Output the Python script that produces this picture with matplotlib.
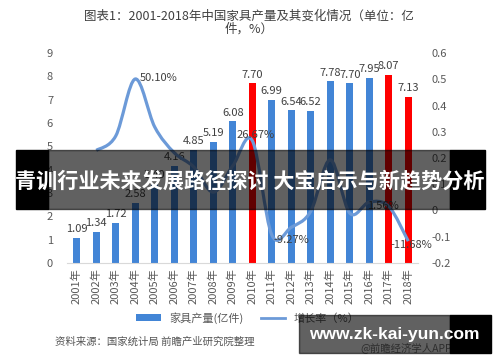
import matplotlib
matplotlib.use("Agg")
import matplotlib.pyplot as plt
import numpy as np
from matplotlib.path import Path
from matplotlib.patches import PathPatch, Rectangle
from matplotlib.ticker import FuncFormatter

plt.rcParams['font.family'] = ['Noto Sans CJK SC', 'DejaVu Sans']

years = ['2001年', '2002年', '2003年', '2004年', '2005年', '2006年', '2007年', '2008年', '2009年',
         '2010年', '2011年', '2012年', '2013年', '2014年', '2015年', '2016年', '2017年', '2018年']
output = [1.09, 1.34, 1.72, 2.58, 3.40, 4.16, 4.85, 5.19, 6.08,
          7.70, 6.99, 6.54, 6.52, 7.78, 7.70, 7.95, 8.07, 7.13]
# growth rate, first year has no value
growth = [None, 0.229, 0.284, 0.501, 0.318, 0.22, 0.166, 0.07, 0.17,
          0.2667, -0.0927, -0.064, -0.003, 0.193, -0.01, 0.032, 0.0156, -0.1168]
red_years = ['2010年', '2017年', '2018年']
growth_labels = {'2004年': '50.10%', '2010年': '26.67%', '2011年': '-9.27%',
                 '2017年': '1.56%', '2018年': '-11.68%'}

W, H = 500, 362
fig = plt.figure(figsize=(W / 100, H / 100), dpi=100)
fig.patch.set_facecolor('white')


def fx(x):
    return x / W


def fy(y):
    return 1 - y / H


ax = fig.add_axes([fx(67), fy(263), fx(418) - fx(67), fy(53) - fy(263)])
ax2 = ax.twinx()

blue = '#4285D6'
red = '#FF0000'
line_c = '#6C9AD8'
txt_c = '#404040'

x = np.arange(len(years))
colors = [red if y in red_years else blue for y in years]
bars = ax.bar(x, output, width=0.36, color=colors, zorder=2)
for xi, v in zip(x, output):
    ax.text(xi, v + 0.15, f'{v:.2f}', ha='center', va='bottom', fontsize=8, color=txt_c)

ax.set_xlim(-0.5, len(years) - 0.5)
ax.set_ylim(0, 9)
ax.set_yticks(range(0, 10))
ax.set_xticks(x)
ax.set_xticklabels(years, rotation=90, fontsize=7.5, color='#595959')
ax.tick_params(axis='both', length=0, labelsize=8, colors='#595959')
ax.tick_params(axis='y', pad=10)
for s in ['top', 'right', 'left']:
    ax.spines[s].set_visible(False)
ax.spines['bottom'].set_color('#D9D9D9')

ax2.set_ylim(-0.2, 0.6)
ax2.set_yticks(np.arange(-0.2, 0.61, 0.1))
ax2.yaxis.set_major_formatter(FuncFormatter(lambda v, p: f'{round(v, 1) + 0:g}'))
ax2.tick_params(axis='y', length=0, labelsize=8, colors='#595959', pad=10)
for s in ['top', 'right', 'left', 'bottom']:
    ax2.spines[s].set_visible(False)

# smooth line through growth points (Excel style)
pts = [(xi, g) for xi, g in zip(x, growth) if g is not None]
pts = np.array(pts, dtype=float)
verts = [tuple(pts[0])]
codes = [Path.MOVETO]
n = len(pts)
for i in range(n - 1):
    p0 = pts[max(i - 1, 0)]
    p1 = pts[i]
    p2 = pts[i + 1]
    p3 = pts[min(i + 2, n - 1)]
    c1 = p1 + (p2 - p0) / 6
    c2 = p2 - (p3 - p1) / 6
    verts += [tuple(c1), tuple(c2), tuple(p2)]
    codes += [Path.CURVE4] * 3
ax2.add_patch(PathPatch(Path(verts, codes), fill=False, edgecolor=line_c, lw=2.3, zorder=3))
ax2.plot([], [], color=line_c, lw=2)

label_off = {'2004年': (0.25, 0.005, 'left'), '2010年': (0.15, 0.02, 'center'),
             '2011年': (0.1, -0.02, 'left'), '2017年': (-0.3, 0.0, 'center'),
             '2018年': (0.15, -0.015, 'center')}
for xi, y, g in zip(x, years, growth):
    if y in growth_labels:
        dx, dy, ha = label_off[y]
        ax2.text(xi + dx, g + dy, growth_labels[y], ha=ha, va='center', fontsize=8, color=txt_c, zorder=4)

fig.text(fx(249), fy(23), '图表1：2001-2018年中国家具产量及其变化情况（单位：亿\n件，%）',
         ha='center', va='center', fontsize=9, color='#404040', linespacing=1.0)

fig.legend([bars, ax2.lines[0]], ['家具产量(亿件)', '增长率（%）'], loc='center',
           bbox_to_anchor=(fx(248), fy(318)), ncol=2, frameon=False, fontsize=8,
           handlelength=2.2, handleheight=0.6, columnspacing=1.5, labelcolor='#595959')

fig.text(fx(55), fy(342), '资料来源：国家统计局 前瞻产业研究院整理', ha='left', va='center',
         fontsize=7.5, color='#555555', style='italic')
fig.text(fx(360), fy(348), '@前瞻经济学人APP', ha='left', va='center', fontsize=7.5, color='#777777')

# banner overlay
fig.patches.append(Rectangle((fx(16), fy(209)), fx(48) - fx(16), fy(150) - fy(209),
                             transform=fig.transFigure, color='black', zorder=20))
fig.patches.append(Rectangle((fx(450), fy(209)), fx(485) - fx(450), fy(150) - fy(209),
                             transform=fig.transFigure, color='black', zorder=20))
fig.patches.append(Rectangle((fx(48), fy(209)), fx(450) - fx(48), fy(150) - fy(209),
                             transform=fig.transFigure, color='black', alpha=0.62, zorder=20))
fig.text(fx(250), fy(181), '青训行业未来发展路径探讨 大宝启示与新趋势分析', ha='center', va='center',
         fontsize=15.2, fontweight='bold', color='white', zorder=21)

# watermark box
fig.patches.append(Rectangle((fx(299), fy(353)), fx(450) - fx(299), fy(315) - fy(353),
                             transform=fig.transFigure, color='black', alpha=0.62, zorder=20))
fig.patches.append(Rectangle((fx(450), fy(353)), fx(491) - fx(450), fy(315) - fy(353),
                             transform=fig.transFigure, color='black', zorder=20))
fig.text(fx(394), fy(334), 'www.zk-kai-yun.com', ha='center', va='center', fontsize=12.5,
         fontweight='bold', color='white', family=['Liberation Sans', 'DejaVu Sans'], zorder=21)

fig.savefig('out.png', dpi=100)
